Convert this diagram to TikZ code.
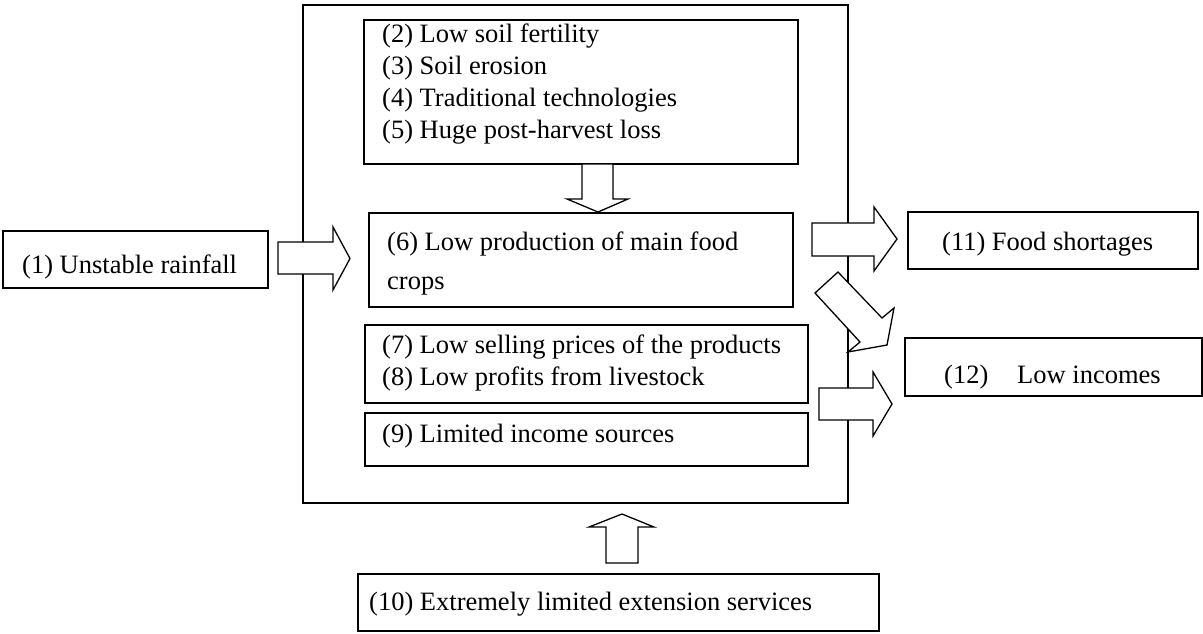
\documentclass[tikz,border=0pt]{standalone}
\usepackage{fontspec}
\setmainfont{Liberation Serif}
\begin{document}
\begin{tikzpicture}[x=1pt,y=-1pt,
  box/.style={draw=black,line width=1.3pt,fill=white,inner sep=0pt,outer sep=0pt},
  blockarrow/.style={draw=black,line width=1.3pt,fill=white,line join=miter},
  txt/.style={anchor=base west,inner sep=0pt,font=\fontsize{26.5}{30}\selectfont}]
\useasboundingbox (0,0) rectangle (1203,633);
% outer frame
\node[box,minimum width=545pt,minimum height=498pt] (outer) at (575.5,254) {};
% boxes
\node[box,minimum width=265pt,minimum height=57pt] (b1) at (135.5,259.5) {};
\node[box,minimum width=434pt,minimum height=144pt] (b25) at (581,92) {};
\node[box,minimum width=424pt,minimum height=94pt] (b6) at (581,260) {};
\node[box,minimum width=443pt,minimum height=78pt] (b78) at (586.5,364) {};
\node[box,minimum width=443pt,minimum height=53pt] (b9) at (586.5,439.5) {};
\node[box,minimum width=290pt,minimum height=57pt] (b11) at (1053,240.5) {};
\node[box,minimum width=297pt,minimum height=58pt] (b12) at (1053.5,367) {};
\node[box,minimum width=521pt,minimum height=57pt] (b10) at (618.5,602.5) {};
% texts
\node[txt] (t1) at (22,273) {(1) Unstable rainfall};
\node[txt] (t2) at (382,42) {(2) Low soil fertility};
\node[txt] (t3) at (382,74) {(3) Soil erosion};
\node[txt] (t4) at (382,106) {(4) Traditional technologies};
\node[txt] (t5) at (382,138) {(5) Huge post-harvest loss};
\node[txt] (t6a) at (387,250) {(6) Low production of main food};
\node[txt] (t6b) at (387,289) {crops};
\node[txt] (t7) at (382,353) {(7) Low selling prices of the products};
\node[txt] (t8) at (382,385) {(8) Low profits from livestock};
\node[txt] (t9) at (382,442) {(9) Limited income sources};
\node[txt] (t10) at (369,610) {(10) Extremely limited extension services};
\node[txt] (t11) at (942,250) {(11) Food shortages};
\node[txt] (t12a) at (944,383) {(12)};
\node[txt] (t12b) at (1017,383) {Low incomes};
% block arrows
\draw[blockarrow] (278,242) -- (333,242) -- (333,227) -- (350,258.5) -- (333,290) -- (333,274) -- (278,274) -- cycle;
\draw[blockarrow] (582,164) -- (613,164) -- (613,199) -- (628,199) -- (598,212) -- (567,199) -- (582,199) -- cycle;
\draw[blockarrow] (812,223) -- (874,223) -- (874,207) -- (897,239) -- (874,271) -- (874,256) -- (812,256) -- cycle;
\draw[blockarrow] (819,388) -- (873,388) -- (873,372) -- (892,404) -- (873,436) -- (873,420) -- (819,420) -- cycle;
\draw[blockarrow] (838,272) -- (882,318) -- (894,308) -- (887,345) -- (848,352) -- (860,342) -- (815,293) -- cycle;
\draw[blockarrow] (606,563) -- (606,527) -- (589,527) -- (622,514) -- (654,527) -- (638,527) -- (638,563) -- cycle;
\end{tikzpicture}
\end{document}
